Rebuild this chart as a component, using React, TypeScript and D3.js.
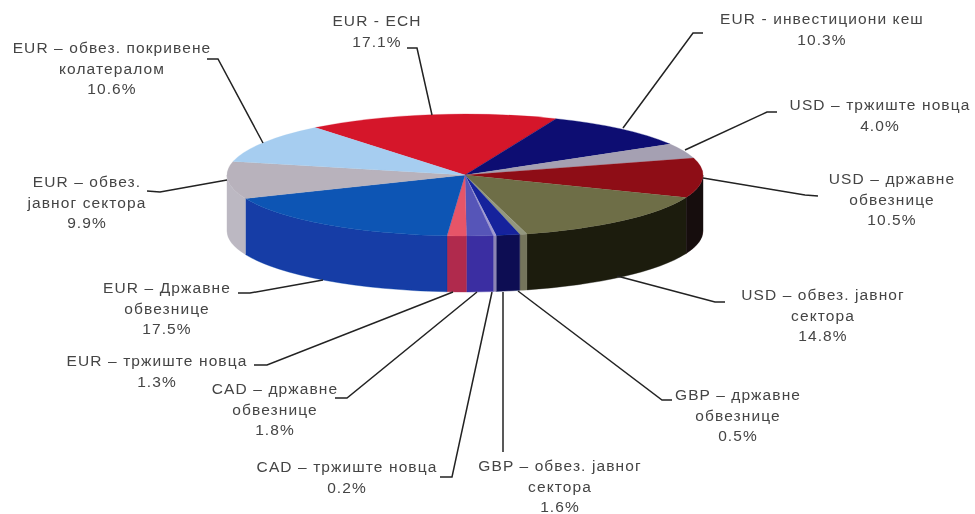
import React from "react";
import * as d3 from "d3";

const categories = [
  ["EUR - ЕСН"],
  ["EUR - инвестициони кеш"],
  ["USD – тржиште новца"],
  ["USD – државне", "обвезнице"],
  ["USD – обвез. јавног", "сектора"],
  ["GBP – државне", "обвезнице"],
  ["GBP – обвез. јавног", "сектора"],
  ["CAD – тржиште новца"],
  ["CAD – државне", "обвезнице"],
  ["EUR – тржиште новца"],
  ["EUR – Државне", "обвезнице"],
  ["EUR – обвез.", "јавног сектора"],
  ["EUR – обвез. покривене", "колатералом"],
];
const shares = [17.1, 10.3, 4.0, 10.5, 14.8, 0.5, 1.6, 0.2, 1.8, 1.3, 17.5, 9.9, 10.6];
const topColors = ["#d5142a", "#0a0c72", "#a5a0b2", "#8e0a14", "#6e6e46", "#93977f", "#12239c", "#a09ad0", "#5654b8", "#e65468", "#0f55b4", "#b8b2bc", "#a6cdf0"];
const wallColors = ["#a01020", "#080a50", "#777", "#140808", "#1b1b0e", "#74745c", "#0a1052", "#8c84b4", "#3a2ea2", "#b02c4e", "#123ea6", "#bcb8c2", "#a6cdf0"];

const labelX = [377, 822, 880, 892, 823, 738, 560, 347, 275, 157, 167, 87, 112];
const firstBaseline = [26, 24, 110, 184, 300, 400, 471, 472, 394, 366, 293, 187, 53];
const lineGap = 20.7;
const leaders: [number, number][][] = [
  [[407, 48], [417, 48], [432, 115]],
  [[703, 33], [693, 33], [623, 128]],
  [[777, 112], [767, 112], [685, 150]],
  [[818, 196], [805, 195], [703, 178]],
  [[725, 302], [715, 302], [617, 276]],
  [[672, 400], [662, 400], [518, 291]],
  [[503, 452], [503, 292]],
  [[440, 477], [452, 477], [492, 292]],
  [[335, 398], [347, 398], [477, 292]],
  [[254, 365], [267, 365], [453, 292]],
  [[238, 293], [250, 293], [323, 280]],
  [[147, 191], [160, 192], [227, 180]],
  [[207, 59], [218, 59], [263, 143]],
];

const W = 975, H = 514, cx = 465, cy = 175, rx = 238, ry = 61, depth = 56;
const rad = (d: number) => (d * Math.PI) / 180;
const startAngle = rad(-39);

const slices = d3
  .pie<number>()
  .sort(null)
  .startAngle(startAngle)
  .endAngle(startAngle + 2 * Math.PI)(shares);

const arcGen = d3.arc<d3.PieArcDatum<number>>().innerRadius(0).outerRadius(rx);
const leaderLine = d3.line();
const pt = (a: number, dy = 0) => [cx + rx * Math.sin(a), cy - ry * Math.cos(a) + dy];

function wallPath(a0: number, a1: number) {
  const lo = Math.PI / 2, hi = (3 * Math.PI) / 2;
  const s = Math.max(a0, lo), e = Math.min(a1, hi);
  if (e <= s) return null;
  const [x0, y0] = pt(s), [x1, y1] = pt(e);
  return `M${x0},${y0}A${rx},${ry} 0 0 1 ${x1},${y1}L${x1},${y1 + depth}A${rx},${ry} 0 0 0 ${x0},${y0 + depth}Z`;
}

export default function App() {
  return (
    <svg width={W} height={H} viewBox={`0 0 ${W} ${H}`} style={{ position: "absolute", left: 0, top: 0, background: "#fff" }}>
      <defs>
        <filter id="scan" x="-5%" y="-5%" width="110%" height="110%">
          <feGaussianBlur stdDeviation="0.65" />
        </filter>
      </defs>
      <g filter="url(#scan)">
        {slices.map((s, i) => {
          const d = wallPath(s.startAngle, s.endAngle);
          return d ? <path key={i} d={d} fill={wallColors[i]} stroke={wallColors[i]} strokeWidth={0.4} /> : null;
        })}
        <g transform={`translate(${cx},${cy}) scale(1,${ry / rx})`}>
          {slices.map((s, i) => (
            <path key={i} d={arcGen(s) as string} fill={topColors[i]} stroke={topColors[i]} strokeWidth={0.4} />
          ))}
        </g>
        {leaders.map((p, i) => (
          <path key={i} d={leaderLine(p) as string} fill="none" stroke="#222" strokeWidth={1.5} />
        ))}
        <g fontFamily="'Liberation Sans', Arial, sans-serif" fontSize={15.5} fill="#444" textAnchor="middle" letterSpacing={1.1}>
          {categories.map((lines, i) => (
            <text key={i}>
              {lines.map((l, j) => (
                <tspan key={j} x={labelX[i]} y={firstBaseline[i] + j * lineGap}>{l}</tspan>
              ))}
              <tspan x={labelX[i]} y={firstBaseline[i] + lines.length * lineGap}>{d3.format(".1f")(shares[i])}%</tspan>
            </text>
          ))}
        </g>
      </g>
    </svg>
  );
}
